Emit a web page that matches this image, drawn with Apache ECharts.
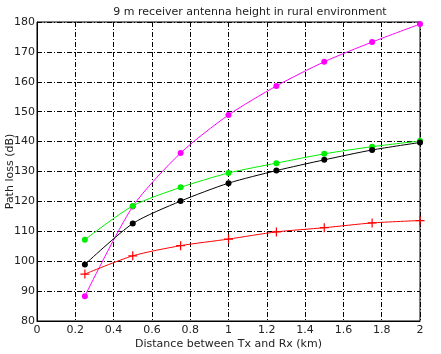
<!DOCTYPE html>
<html><head><meta charset="utf-8">
<script src="https://cdn.jsdelivr.net/npm/echarts@6/dist/echarts.min.js"></script>
<style>html,body{margin:0;padding:0;background:#fff}#c{width:441px;height:354px}</style>
</head><body><div id="c"></div>
<script>
const distances = [0.25, 0.5, 0.75, 1, 1.25, 1.5, 1.75, 2];
const magentaSeries = [88.3, 118.3, 136.2, 148.9, 158.6, 166.7, 173.3, 179.3];
const greenSeries = [107.2, 118.5, 124.7, 129.5, 132.8, 135.9, 138.3, 140.2];
const blackSeries = [98.9, 112.6, 120.1, 126.1, 130.3, 133.9, 137.2, 139.7];
const redSeries = [95.7, 101.8, 105.2, 107.4, 109.8, 111.2, 112.8, 113.6];
const xTicks = [0, 0.2, 0.4, 0.6, 0.8, 1, 1.2, 1.4, 1.6, 1.8, 2];
const yTicks = [80, 90, 100, 110, 120, 130, 140, 150, 160, 170, 180];

const font = 'DejaVu Sans';
const pair = arr => distances.map((d, i) => [d, arr[i]]);
const gridStyle = {color: '#000', width: 1, type: [5, 2, 1, 2]};
function s(data, color, symbol, size) {
  return {type: 'line', data: pair(data), smooth: 0.25, symbol: symbol, symbolSize: size,
    lineStyle: {color: color, width: 1}, itemStyle: {color: color, borderColor: color, borderWidth: symbol.startsWith('path') ? 1.2 : 0},
    showSymbol: true, animation: false};
}
const plus = 'path://M5,0 L5,10 M0,5 L10,5';
const chart = echarts.init(document.getElementById('c'), null, {renderer: 'canvas'});
chart.setOption({
  animation: false,
  title: {text: '9 m receiver antenna height in rural environment', left: 245, top: 2, textAlign: 'center',
    textStyle: {fontFamily: font, fontSize: 11, fontWeight: 'normal', color: '#222'}},
  grid: {left: 37, right: 21, top: 22, bottom: 33, outerBoundsMode: 'none', containLabel: false,
    show: true, borderColor: '#000', borderWidth: 1, backgroundColor: 'transparent'},
  xAxis: {type: 'value', min: 0, max: 2, interval: 0.2,
    name: 'Distance between Tx and Rx (km)', nameLocation: 'middle', nameGap: 18, nameMoveOverlap: false,
    nameTextStyle: {fontFamily: font, fontSize: 11, color: '#222'},
    axisLine: {show: true, lineStyle: {color: '#000'}}, axisTick: {show: false},
    axisLabel: {fontFamily: font, fontSize: 11, color: '#222', margin: 4,
      formatter: v => { const t = xTicks.find(x => Math.abs(x - v) < 1e-6); return t === undefined ? '' : String(t); }},
    splitLine: {show: true, lineStyle: gridStyle}},
  yAxis: {type: 'value', min: 80, max: 180, interval: 10,
    name: 'Path loss (dB)', nameLocation: 'middle', nameGap: 21, nameMoveOverlap: false,
    nameTextStyle: {fontFamily: font, fontSize: 11, color: '#222'},
    axisLine: {show: true, lineStyle: {color: '#000'}}, axisTick: {show: false},
    axisLabel: {fontFamily: font, fontSize: 11, color: '#222', margin: 2,
      formatter: v => { const t = yTicks.find(x => Math.abs(x - v) < 1e-6); return t === undefined ? '' : String(t); }},
    splitLine: {show: true, lineStyle: gridStyle}},
  series: [
    s(magentaSeries, '#ff00ff', 'circle', 6),
    s(greenSeries, '#00ee00', 'circle', 6),
    s(blackSeries, '#000000', 'circle', 6),
    s(redSeries, '#ff0000', plus, 9)
  ]
});
</script></body></html>
